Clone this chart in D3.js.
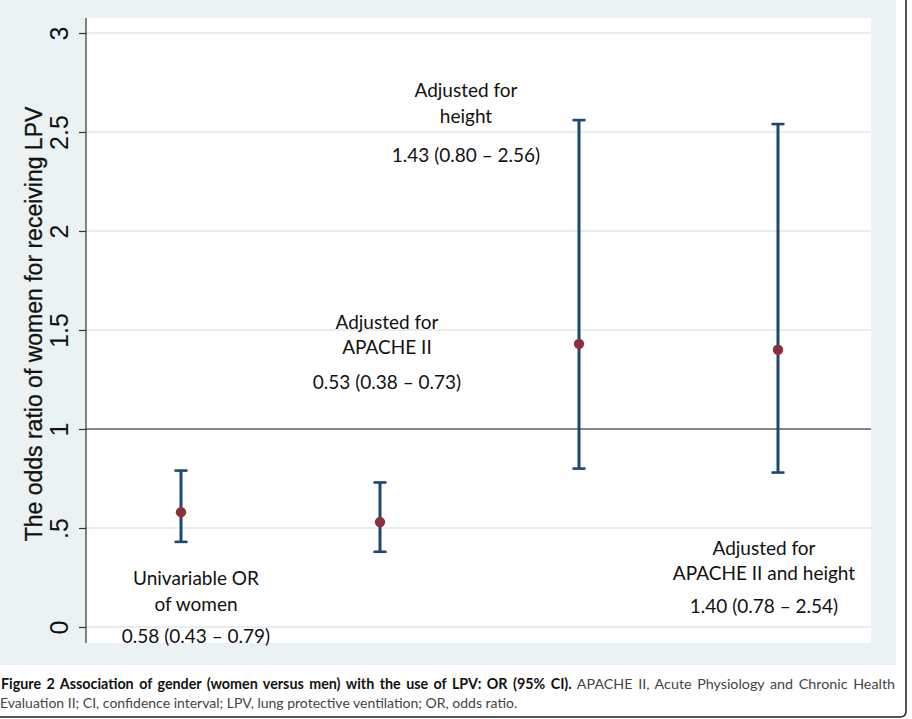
<!DOCTYPE html>
<html><head><meta charset="utf-8">
<script src="https://cdn.jsdelivr.net/npm/d3@7"></script>
<style>body{margin:0;background:#fff}svg{display:block}</style>
</head><body>
<svg id="c" width="912" height="719"></svg>
<script>
const categories = [1, 2, 3, 4];
const estimates = [0.58, 0.53, 1.43, 1.40];
const lower = [0.43, 0.38, 0.80, 0.78];
const upper = [0.79, 0.73, 2.56, 2.54];
const labelLines = [
  ["Univariable OR", "of women", "0.58 (0.43 \u2013 0.79)"],
  ["Adjusted for", "APACHE II", "0.53 (0.38 \u2013 0.73)"],
  ["Adjusted for", "height", "1.43 (0.80 \u2013 2.56)"],
  ["Adjusted for", "APACHE II and height", "1.40 (0.78 \u2013 2.54)"]
];
const labelValueY = [-0.08, 1.2, 2.35, 0.07];
const yTicks = [0, 0.5, 1, 1.5, 2, 2.5, 3];
const yTickLabels = ["0", ".5", "1", "1.5", "2", "2.5", "3"];
const yTitle = "The odds ratio of women for receiving LPV";
const captionBold = "Figure 2 Association of gender (women versus men) with the use of LPV: OR (95% CI).";
const captionRest1 = " APACHE II, Acute Physiology and Chronic Health";
const captionLine2 = "Evaluation II; CI, confidence interval; LPV, lung protective ventilation; OR, odds ratio.";

const svg = d3.select("#c");
// frame
svg.append("rect").attr("x",0).attr("y",0).attr("width",896).attr("height",665).attr("fill","#eaf2f4");
svg.append("path").attr("d","M0,717 L900,717 Q906,717 906,711 L906,0").attr("fill","none").attr("stroke","#222").attr("stroke-width",1.5);

const pLeft = 86, pRight = 871, pTop = 18, pBottom = 643;
svg.append("rect").attr("x",pLeft).attr("y",pTop).attr("width",pRight-pLeft).attr("height",pBottom-pTop).attr("fill","#fff");

const x = d3.scaleLinear().domain([1,4]).range([181,778]);
const y = d3.scaleLinear().domain([0,3]).range([627,33]);

// gridlines
svg.append("g").selectAll("line").data(yTicks.filter(d=>d!==1)).join("line")
  .attr("x1",pLeft).attr("x2",pRight).attr("y1",d=>y(d)).attr("y2",d=>y(d))
  .attr("stroke","#e6eef1").attr("stroke-width",2.2);
// reference line
svg.append("line").attr("x1",pLeft).attr("x2",pRight).attr("y1",y(1)).attr("y2",y(1))
  .attr("stroke","#111").attr("stroke-width",1.2);

// axis
const axis = d3.axisLeft(y).tickValues(yTicks).tickFormat((d,i)=>yTickLabels[i]).tickSize(7).tickSizeOuter(0);
const ag = svg.append("g").attr("transform",`translate(${pLeft},0)`).call(axis);
ag.select(".domain").attr("d",`M0,${pTop}V${pBottom}`).attr("stroke","#333").attr("stroke-width",1.2);
ag.selectAll(".tick line").attr("stroke","#333").attr("stroke-width",1.2);
ag.selectAll(".tick text")
  .attr("font-family","'Liberation Sans', Arial, sans-serif").attr("font-size",25).attr("fill","#111")
  .attr("x",null).attr("dy",null)
  .attr("transform","translate(-18,0) rotate(-90)")
  .attr("text-anchor","middle");

svg.append("text").attr("transform",`translate(42,${(105+543)/2}) rotate(-90)`)
  .attr("text-anchor","middle").attr("font-family","'Liberation Sans', Arial, sans-serif")
  .attr("font-size",23).attr("fill","#111").attr("stroke","#111").attr("stroke-width",0.3).text(yTitle);

// CIs
const ci = svg.append("g").attr("stroke","#1d4876");
categories.forEach((c,i)=>{
  ci.append("line").attr("x1",x(c)).attr("x2",x(c)).attr("y1",y(lower[i])).attr("y2",y(upper[i])).attr("stroke-width",3);
  [lower[i],upper[i]].forEach(v=>{
    ci.append("line").attr("x1",x(c)-6.5).attr("x2",x(c)+6.5).attr("y1",y(v)).attr("y2",y(v)).attr("stroke-width",2.6);
  });
});
svg.append("g").selectAll("circle").data(categories).join("circle")
  .attr("cx",d=>x(d)).attr("cy",(d,i)=>y(estimates[i])).attr("r",5.2).attr("fill","#8e2f3c");

// labels
const labelOffsetX = [15, 7, -113, -14];
const labelGap = [32, 35, 39, 33];
const lf = "Lato, 'Open Sans', sans-serif";
categories.forEach((c,i)=>{
  const cx = x(c) + labelOffsetX[i];
  const by = y(labelValueY[i]);
  const g = svg.append("g").attr("font-family",lf).attr("font-size",19).attr("fill","#111").attr("text-anchor","middle");
  g.append("text").attr("x",cx).attr("y",by-labelGap[i]-25.5).text(labelLines[i][0]);
  g.append("text").attr("x",cx).attr("y",by-labelGap[i]).text(labelLines[i][1]);
  g.append("text").attr("x",cx).attr("y",by).text(labelLines[i][2]);
});

// caption (justified first line)
const cap = svg.append("text").attr("x",1).attr("y",689).attr("font-family",lf).attr("font-size",14.3).attr("fill","#222");
cap.append("tspan").attr("font-weight","bold").attr("fill","#111").text(captionBold);
cap.append("tspan").attr("fill","#444").text(captionRest1);
const w = cap.node().getComputedTextLength();
const spaces = (captionBold + captionRest1).split(" ").length - 1;
cap.attr("word-spacing", (895 - 1 - w) / spaces);
svg.append("text").attr("x",0).attr("y",708).attr("font-family",lf).attr("font-size",14).attr("fill","#444").text(captionLine2);
</script>
</body></html>
